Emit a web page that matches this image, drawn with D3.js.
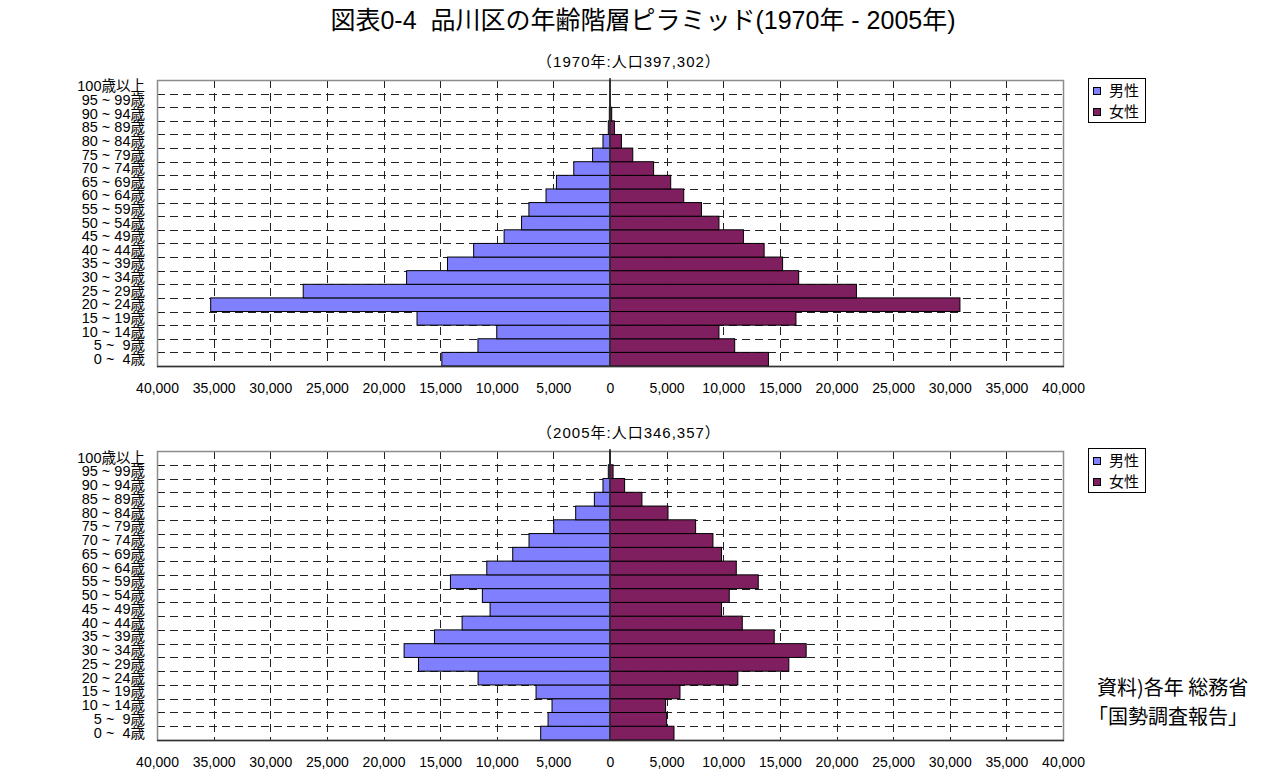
<!DOCTYPE html>
<html>
<head>
<meta charset="utf-8">
<script src="https://cdn.jsdelivr.net/npm/d3@7"></script>
<style>
  body { margin: 0; background: #fff; }
  text { white-space: pre; }
</style>
</head>
<body>
<svg id="chart" width="1273" height="776"></svg>
<script>
// Age groups, listed from youngest (bottom) to oldest (top)
const ageGroups = [
  "0 ~  4歳", "5 ~  9歳", "10 ~ 14歳", "15 ~ 19歳", "20 ~ 24歳", "25 ~ 29歳",
  "30 ~ 34歳", "35 ~ 39歳", "40 ~ 44歳", "45 ~ 49歳", "50 ~ 54歳", "55 ~ 59歳",
  "60 ~ 64歳", "65 ~ 69歳", "70 ~ 74歳", "75 ~ 79歳", "80 ~ 84歳", "85 ~ 89歳",
  "90 ~ 94歳", "95 ~ 99歳", "100歳以上"
];

// 1970 population by age group
const male1970 = [
  14850, 11660, 10000, 17040, 35260, 27090, 17960, 14350, 12040, 9350, 7810,
  7160, 5650, 4730, 3200, 1540, 620, 150, 60, 10, 2
];
const female1970 = [
  13990, 11010, 9620, 16420, 30900, 21760, 16660, 15240, 13610, 11780, 9620,
  8080, 6510, 5360, 3850, 2010, 1010, 390, 150, 30, 5
];

// 2005 population by age group
const male2005 = [
  6120, 5470, 5120, 6530, 11650, 16910, 18180, 15500, 13060, 10590, 11270,
  14090, 10880, 8590, 7150, 4970, 3030, 1380, 620, 150, 30
];
const female2005 = [
  5650, 5000, 4910, 6180, 11290, 15790, 17320, 14500, 11680, 9850, 10530,
  13090, 11150, 9850, 9090, 7560, 5120, 2820, 1290, 270, 40
];

const tickValues = d3.range(-40000, 40001, 5000);
const seriesNames = ["男性", "女性"];
const seriesColors = ["#8080ff", "#801f5f"];

const titleText = "図表0-4  品川区の年齢階層ピラミッド(1970年 - 2005年)";
const panelTitles = ["（1970年:人口397,302）", "（2005年:人口346,357）"];
const sourceLines = ["資料)各年 総務省", "「国勢調査報告」"];

const latinFont = "'Liberation Sans Narrow', 'Liberation Sans', Arial, 'Noto Sans CJK JP', sans-serif";
const labelFont = "'Liberation Sans', Arial, 'Noto Sans CJK JP', sans-serif";

const svg = d3.select("#chart");

svg.append("text")
  .attr("x", 643).attr("y", 29)
  .attr("text-anchor", "middle")
  .style("font-family", latinFont)
  .style("font-size", "25px")
  .attr("fill", "#000")
  .text(titleText);

function drawPanel(cfg) {
  const x = d3.scaleLinear().domain([-40000, 40000]).range([157, 1063]);
  const y = d3.scaleBand().domain(ageGroups).range([cfg.bottom, cfg.top]).padding(0);
  const g = svg.append("g");

  // panel caption
  g.append("text")
    .attr("x", 629).attr("y", cfg.top - 13)
    .attr("text-anchor", "middle")
    .style("font-family", latinFont)
    .style("font-size", "15px")
    .style("letter-spacing", "1px")
    .text(cfg.caption);

  // vertical dashed gridlines
  g.append("g").selectAll("line")
    .data(tickValues.filter(v => v !== 0 && Math.abs(v) !== 40000))
    .join("line")
    .attr("x1", d => Math.round(x(d)) + 0.5).attr("x2", d => Math.round(x(d)) + 0.5)
    .attr("y1", cfg.top).attr("y2", cfg.bottom)
    .attr("stroke", "#222").attr("stroke-width", 1)
    .attr("stroke-dasharray", "8,5");

  // horizontal dashed gridlines at category boundaries
  g.append("g").selectAll("line")
    .data(ageGroups.slice(1))
    .join("line")
    .attr("x1", x(-40000)).attr("x2", x(40000))
    .attr("y1", d => Math.round(y(d) + y.bandwidth()) + 0.5)
    .attr("y2", d => Math.round(y(d) + y.bandwidth()) + 0.5)
    .attr("stroke", "#222").attr("stroke-width", 1)
    .attr("stroke-dasharray", "8,5");

  // plot frame
  g.append("rect")
    .attr("x", x(-40000) + 0.5).attr("y", cfg.top + 0.5)
    .attr("width", x(40000) - x(-40000)).attr("height", cfg.bottom - cfg.top)
    .attr("fill", "none").attr("stroke", "#8c8c8c").attr("stroke-width", 1.5);

  // male bars (left)
  g.append("g").selectAll("rect")
    .data(ageGroups.map((a, i) => ({ age: a, v: cfg.male[i] })))
    .join("rect")
    .attr("x", d => x(-d.v)).attr("y", d => y(d.age))
    .attr("width", d => x(0) - x(-d.v)).attr("height", y.bandwidth())
    .attr("fill", seriesColors[0]).attr("stroke", "#000").attr("stroke-width", 1);

  // female bars (right)
  g.append("g").selectAll("rect")
    .data(ageGroups.map((a, i) => ({ age: a, v: cfg.female[i] })))
    .join("rect")
    .attr("x", x(0)).attr("y", d => y(d.age))
    .attr("width", d => x(d.v) - x(0)).attr("height", y.bandwidth())
    .attr("fill", seriesColors[1]).attr("stroke", "#000").attr("stroke-width", 1);

  // zero axis
  g.append("line")
    .attr("x1", x(0)).attr("x2", x(0))
    .attr("y1", cfg.top - 2).attr("y2", cfg.bottom)
    .attr("stroke", "#333").attr("stroke-width", 1.5);

  // bottom axis line
  g.append("line")
    .attr("x1", x(-40000)).attr("x2", x(40000) + 1)
    .attr("y1", cfg.bottom + 0.5).attr("y2", cfg.bottom + 0.5)
    .attr("stroke", "#333").attr("stroke-width", 1.5);

  // value axis labels
  const xAxis = g.append("g")
    .attr("transform", `translate(0,${cfg.bottom})`)
    .call(d3.axisBottom(x).tickValues(tickValues)
      .tickFormat(d => d3.format(",")(Math.abs(d)))
      .tickSize(0).tickPadding(17));
  xAxis.select(".domain").remove();
  xAxis.selectAll("text")
    .style("font-family", latinFont).style("font-size", "14px").attr("fill", "#000");

  // age group labels
  const yAxis = g.append("g")
    .attr("transform", `translate(${x(-40000)},0)`)
    .call(d3.axisLeft(y).tickSize(0).tickPadding(12));
  yAxis.select(".domain").remove();
  yAxis.selectAll("text")
    .style("font-family", labelFont).style("font-size", "14.5px").attr("fill", "#000");

  // legend
  const lg = g.append("g").attr("transform", `translate(1088,${cfg.legendTop})`);
  lg.append("rect")
    .attr("x", 0.5).attr("y", 0.5).attr("width", 57).attr("height", 44)
    .attr("fill", "#fff").attr("stroke", "#000").attr("stroke-width", 1);
  seriesNames.forEach((name, i) => {
    lg.append("rect")
      .attr("x", 5.5).attr("y", 9.5 + i * 21).attr("width", 7).attr("height", 7)
      .attr("fill", seriesColors[i]).attr("stroke", "#000").attr("stroke-width", 1);
    lg.append("text")
      .attr("x", 21).attr("y", 18 + i * 21)
      .style("font-family", labelFont).style("font-size", "15px")
      .text(name);
  });
}

drawPanel({ top: 80, bottom: 366, legendTop: 78, caption: panelTitles[0], male: male1970, female: female1970 });
drawPanel({ top: 451, bottom: 740, legendTop: 448, caption: panelTitles[1], male: male2005, female: female2005 });

// source note
svg.append("g").selectAll("text")
  .data(sourceLines)
  .join("text")
  .attr("x", (d, i) => i === 0 ? 1097 : 1088)
  .attr("y", (d, i) => 695 + i * 29)
  .style("font-family", "'Noto Sans CJK JP', sans-serif")
  .style("font-size", "20px")
  .text(d => d);
</script>
</body>
</html>
